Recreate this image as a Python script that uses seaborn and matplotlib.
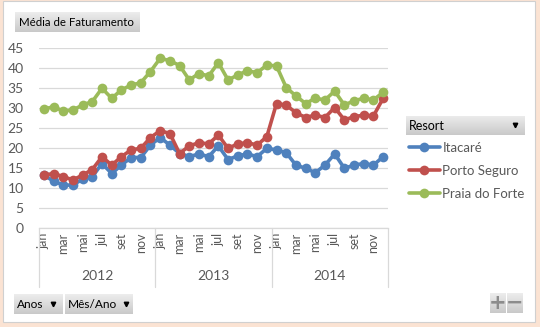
import numpy as np
import pandas as pd
import matplotlib
matplotlib.use("Agg")
import matplotlib.pyplot as plt
import matplotlib.transforms as mtransforms
from matplotlib.patches import Rectangle
from matplotlib.lines import Line2D
import seaborn as sns

# ---- data -------------------------------------------------------------
anos = ["2012", "2013", "2014"]
meses = ["jan", "fev", "mar", "abr", "mai", "jun",
         "jul", "ago", "set", "out", "nov", "dez"]
resorts = ["Itacaré", "Porto Seguro", "Praia do Forte"]

itacare = [13.3, 11.8, 10.8, 10.8, 12.3, 12.9, 16.2, 13.7, 15.8, 17.7, 17.7, 20.8,
           22.7, 20.8, 18.7, 17.9, 18.6, 17.9, 20.6, 17.2, 18.1, 18.6, 17.9, 20.0,
           19.6, 18.9, 15.8, 15.0, 13.9, 15.8, 18.6, 15.0, 15.8, 16.2, 15.8, 17.9]
porto_seguro = [13.3, 13.7, 12.9, 12.1, 13.3, 14.7, 17.9, 15.8, 17.9, 19.6, 20.0, 22.7,
                24.4, 23.7, 18.7, 20.6, 21.4, 21.1, 23.3, 20.0, 21.1, 21.4, 20.8, 22.9,
                31.2, 30.8, 28.9, 27.7, 28.3, 27.7, 30.2, 27.1, 27.9, 28.3, 28.1, 32.5]
praia_do_forte = [29.8, 30.4, 29.3, 29.6, 30.8, 31.7, 35.0, 32.5, 34.6, 35.8, 36.4, 39.2,
                  42.5, 41.9, 40.7, 37.1, 38.7, 38.1, 41.4, 37.1, 38.3, 39.4, 38.9, 40.8,
                  40.6, 35.2, 33.1, 31.2, 32.5, 32.1, 34.3, 30.8, 31.9, 32.5, 32.1, 34.0]

cores = ["#4F81BD", "#C0504D", "#9BBB59"]

n = len(anos) * len(meses)
df = pd.DataFrame({
    "pos": np.tile(np.arange(n), 3),
    "valor": itacare + porto_seguro + praia_do_forte,
    "Resort": np.repeat(resorts, n),
})

# ---- figure -----------------------------------------------------------
W, H = 540, 327
sns.set_theme(style="white")
plt.rcParams["font.family"] = ["Lato", "DejaVu Sans"]

fig = plt.figure(figsize=(W / 100, H / 100), dpi=100, facecolor="#FBE3D3")


def fx(px):
    return px / W


def fy(py):
    return 1 - py / H


# white panel with thin grey frame, kept behind everything else
fig.patches.append(Rectangle((fx(3), fy(322)), fx(535) - fx(3), fy(1) - fy(322),
                             transform=fig.transFigure, facecolor="white",
                             edgecolor="#D0D0D0", linewidth=0.8, zorder=-10))

ax = fig.add_axes([fx(39), fy(228.3), fx(388) - fx(39), fy(48.3) - fy(228.3)])
ax.set_facecolor("none")

sns.lineplot(data=df, x="pos", y="valor", hue="Resort", palette=cores,
             marker="o", markersize=7, markeredgewidth=0, linewidth=2.6,
             legend=False, ax=ax, zorder=3)

ax.set_xlim(-0.5, n - 0.5)
ax.set_ylim(0, 45)
ax.set_yticks(range(0, 46, 5))
ax.yaxis.grid(True, color="#D9D9D9", linewidth=0.9)
ax.xaxis.grid(False)
for s in ["top", "right", "left"]:
    ax.spines[s].set_visible(False)
ax.spines["bottom"].set_color("#D9D9D9")
ax.spines["bottom"].set_linewidth(0.9)
ax.tick_params(axis="y", length=0, pad=11, labelsize=10, labelcolor="#595959")
ax.set_xlabel("")
ax.set_ylabel("")

# month ticks, every other month
ax.set_xticks(range(0, n, 2))
ax.set_xticklabels([meses[i % 12] for i in range(0, n, 2)], rotation=90,
                   fontsize=9, color="#595959")
ax.tick_params(axis="x", length=0, pad=3)

# year labels and separators below the months
trans = mtransforms.blended_transform_factory(ax.transData, ax.transAxes)
ax_h = 228.3 - 48.3
for k, ano in enumerate(anos):
    ax.text(k * 12 + 5.5, -(276 - 228.3) / ax_h, ano, transform=trans,
            ha="center", va="center", fontsize=10, color="#595959")
for k in range(len(anos) + 1):
    ax.add_line(Line2D([k * 12 - 0.5, k * 12 - 0.5], [0, -(287 - 228.3) / ax_h],
                       transform=trans, color="#D9D9D9", linewidth=0.9,
                       clip_on=False))

btn_cmap = matplotlib.colors.LinearSegmentedColormap.from_list(
    "btn", ["#EDEDED", "#C9C9C9"])


def botao(x0, y0, x1, y1, texto=None, seta=None, tx=None, fs=9):
    g = fig.add_axes([fx(x0), fy(y1), fx(x1) - fx(x0), fy(y0) - fy(y1)])
    grad = np.linspace(0, 1, 64).reshape(-1, 1)
    g.imshow(grad, aspect="auto", cmap=btn_cmap, extent=(0, 1, 0, 1),
             origin="upper")
    g.set_xlim(0, 1)
    g.set_ylim(0, 1)
    g.axis("off")
    if texto:
        g.text(((tx if tx else x0 + 4) - x0) / (x1 - x0), 0.5, texto,
               transform=g.transAxes, ha="left", va="center", fontsize=fs,
               color="black")
    if seta is not None:
        g.plot([(seta - x0) / (x1 - x0)], [0.5], transform=g.transAxes,
               marker="v", markersize=3.2, color="black", linestyle="none")
    return g


# field buttons
botao(15, 12, 140, 32, "Média de Faturamento", tx=19, fs=8.3)
botao(406, 116, 525, 135, "Resort", seta=515, tx=409, fs=9)
botao(14, 294, 63, 314, "Anos", seta=53, tx=17, fs=8.6)
botao(65, 294, 133, 314, "Mês/Ano", seta=126, tx=68, fs=8.6)

# zoom buttons
for x0, x1, simbolo in [(490, 506, "+"), (507, 523, "−")]:
    g = botao(x0, 293, x1, 313)
    g.text(0.5, 0.5, simbolo, transform=g.transAxes, ha="center", va="center",
           fontsize=15, fontweight="bold", color="#8C8C8C",
           family=["DejaVu Sans"])

# legend entries
handles = [Line2D([0], [0], color=c, linewidth=2.6, marker="o", markersize=7,
                  markeredgewidth=0) for c in cores]
fig.legend(handles, resorts, loc="upper left",
           bbox_to_anchor=(fx(406), fy(139)), bbox_transform=fig.transFigure,
           frameon=False, fontsize=9.5, handlelength=2.4, handletextpad=0.15,
           labelspacing=0.85, borderaxespad=0, borderpad=0.2,
           labelcolor="#595959")

fig.savefig("out.png", dpi=100, facecolor=fig.get_facecolor())
